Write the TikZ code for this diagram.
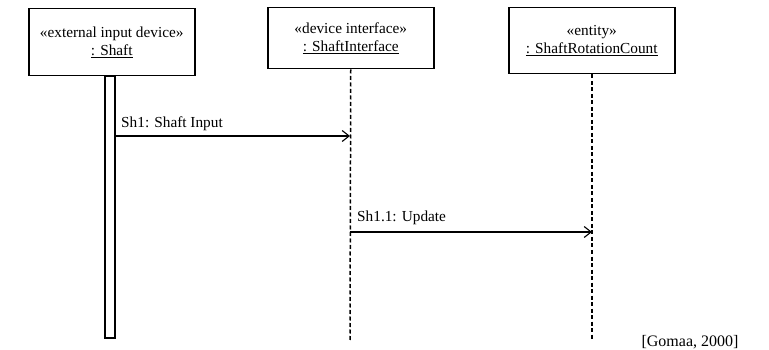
\documentclass[tikz,border=0pt]{standalone}
\usepackage{fontspec}
\setmainfont{Liberation Serif}
\usetikzlibrary{arrows.meta}
\begin{document}
\begin{tikzpicture}[x=1pt,y=-1pt,
  objbox/.style={draw,line width=1.5pt,minimum width=166pt,minimum height=67pt,anchor=north west,align=center,font=\fontsize{15.3}{18}\selectfont,inner sep=0pt},
  lifeline/.style={line width=1.5pt,dash pattern=on 4pt off 2.5pt},
  msg/.style={line width=1.1pt,-{Straight Barb[length=7pt,width=11pt,line width=1.1pt]}},
  lbl/.style={font=\fontsize{15.3}{17}\selectfont,anchor=base west,inner sep=0pt},
  src/.style={font=\fontsize{16}{18}\selectfont,inner sep=0pt}]
\useasboundingbox (0,0) rectangle (769,350);
\node[objbox] (a) at (28,8) {«external input device»\\\underline{: Shaft}};
\node[objbox,minimum height=61pt] (b) at (267,7) {«device interface»\\\underline{: ShaftInterface}};
\node[objbox,minimum height=66pt] (c) at (508,7) {«entity»\\\underline{: ShaftRotationCount}};
\coordinate (aend) at (110,338);
\coordinate (bend) at (350,340);
\coordinate (cend) at (592,340);
\draw[line width=1.3pt] (105,76) rectangle (115,338);
\draw[lifeline] (b.south) -- (bend);
\draw[lifeline] (c.south -| cend) -- (cend);
\coordinate (m1s) at (115,136);
\coordinate (m1e) at (350,136);
\coordinate (m2s) at (350,232);
\coordinate (m2e) at (592,232);
\draw[msg] (m1s) -- (m1e);
\draw[msg] (m2s) -- (m2e);
\node[lbl] (l1) at (121,128) {Sh1: Shaft Input};
\node[lbl] (l2) at (357,222) {Sh1.1: Update};
\node[src] (s) at (690,342) {[Gomaa, 2000]};
\end{tikzpicture}
\end{document}
